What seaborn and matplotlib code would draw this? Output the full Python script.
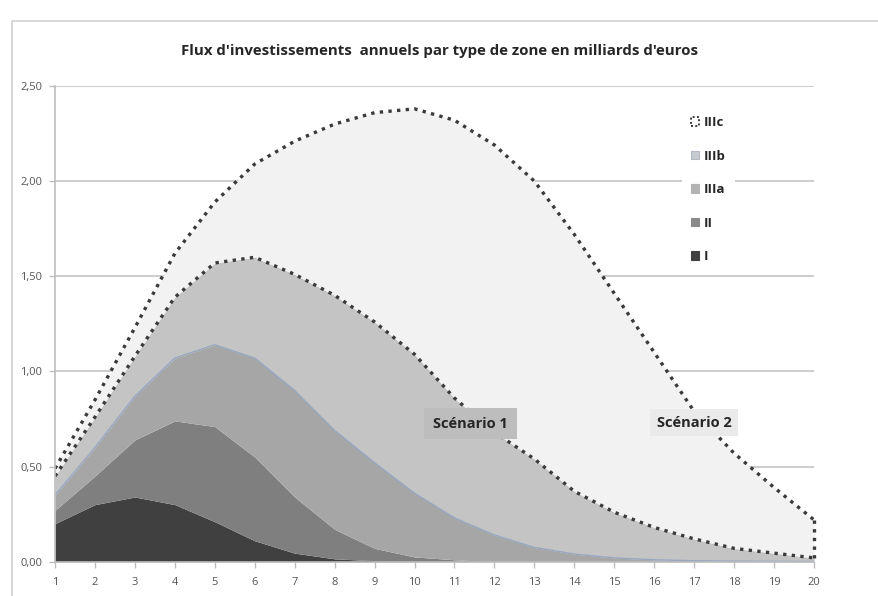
import numpy as np
import pandas as pd
import matplotlib
matplotlib.use("Agg")
import matplotlib.pyplot as plt
from matplotlib.patches import Patch, Rectangle
from matplotlib.ticker import FuncFormatter, MultipleLocator
import seaborn as sns

# Annual investment flows (billion euros) per zone type, years 1..20
years = list(range(1, 21))
zone_i    = [0.20, 0.30, 0.34, 0.30, 0.21, 0.11, 0.045, 0.015, 0.005, 0.0,
             0.0, 0.0, 0.0, 0.0, 0.0, 0.0, 0.0, 0.0, 0.0, 0.0]
zone_ii   = [0.07, 0.15, 0.30, 0.44, 0.50, 0.44, 0.295, 0.155, 0.065, 0.025,
             0.01, 0.0, 0.0, 0.0, 0.0, 0.0, 0.0, 0.0, 0.0, 0.0]
zone_iiia = [0.08, 0.15, 0.23, 0.33, 0.43, 0.52, 0.56, 0.52, 0.45, 0.335,
             0.22, 0.14, 0.075, 0.04, 0.02, 0.01, 0.005, 0.003, 0.002, 0.001]
zone_iiib = [0.10, 0.16, 0.21, 0.32, 0.43, 0.53, 0.61, 0.71, 0.74, 0.73,
             0.63, 0.54, 0.465, 0.33, 0.24, 0.17, 0.115, 0.067, 0.043, 0.019]
zone_iiic = [0.04, 0.09, 0.15, 0.23, 0.32, 0.49, 0.70, 0.90, 1.10, 1.29,
             1.46, 1.51, 1.46, 1.35, 1.15, 0.92, 0.67, 0.50, 0.345, 0.20]

series_names = ["I", "II", "IIIa", "IIIb", "IIIc"]
title = "Flux d'investissements  annuels par type de zone en milliards d'euros"
scenario_labels = ["Scénario 1", "Scénario 2"]

df = pd.DataFrame({"annee": years, "I": zone_i, "II": zone_ii, "IIIa": zone_iiia,
                   "IIIb": zone_iiib, "IIIc": zone_iiic})
cum = df[series_names].cumsum(axis=1)

sns.set_theme(style="white")
plt.rcParams["font.family"] = ["Open Sans", "DejaVu Sans"]

W, H = 879, 596
fig = plt.figure(figsize=(W / 100, H / 100), dpi=100)
fig.patch.set_facecolor("white")

# chart-area border
fig.add_artist(Rectangle((12 / W, -0.05), 1.2, 1 - 21 / H + 0.05,
                         transform=fig.transFigure, fill=False,
                         edgecolor="#d4d4d4", lw=1.3))

left, right, top, bottom = 55, 814, 86, 561.7
ax = fig.add_axes([left / W, 1 - bottom / H, (right - left) / W, (bottom - top) / H])
ax.set_facecolor("none")

fills = {"I": "#404040", "II": "#7f7f7f", "IIIa": "#a6a6a6",
         "IIIb": "#c4c4c4", "IIIc": "#f2f2f2"}

base = np.zeros(len(years))
for name in series_names:
    topv = cum[name].to_numpy()
    ax.fill_between(df["annee"], base, topv, color=fills[name], lw=0, zorder=2)
    base = topv

dot = (0, (1, 1.6))
sns.lineplot(x=df["annee"], y=cum["IIIa"], ax=ax, color="#98a6c0", lw=1.0, zorder=3)
sns.lineplot(x=df["annee"], y=cum["IIIb"], ax=ax, color="#3a3a3a", lw=2.4,
             linestyle=dot, zorder=4)
sns.lineplot(x=df["annee"], y=cum["IIIc"], ax=ax, color="#3a3a3a", lw=2.4,
             linestyle=dot, zorder=4)
ax.plot([years[-1], years[-1]], [cum["IIIb"].iloc[-1], cum["IIIc"].iloc[-1]],
        color="#3a3a3a", lw=2.4, linestyle=dot, zorder=4, clip_on=False)

ax.set_xlim(1, 20)
ax.set_ylim(0, 2.5)
ax.set_xticks(years)
ax.yaxis.set_major_locator(MultipleLocator(0.5))
ax.yaxis.set_major_formatter(FuncFormatter(lambda v, _: f"{v:.2f}".replace(".", ",")))
ax.set_xlabel("")
ax.set_ylabel("")

ax.grid(axis="y", color="#c4c4c4", lw=1.2, zorder=0)
ax.grid(axis="x", visible=False)
ax.set_axisbelow(True)
for s in ["top", "right"]:
    ax.spines[s].set_visible(False)
for s in ["left", "bottom"]:
    ax.spines[s].set_color("#bdbdbd")
    ax.spines[s].set_linewidth(1.2)
    ax.spines[s].set_zorder(5)
ax.tick_params(axis="both", which="major", direction="out", length=4, width=1,
               color="#bdbdbd", labelsize=8, labelcolor="#555555")
ax.tick_params(axis="x", pad=7)
ax.tick_params(axis="y", pad=5)
ax.tick_params(left=True, bottom=True)

fig.text(0.5, 1 - 51 / H, title, ha="center", va="center", fontsize=10.8,
         fontweight="bold", color="#262626")

# scenario labels
ax.text(11.4, 0.725, scenario_labels[0], ha="center", va="center", fontsize=10.5,
        fontweight="bold", color="#262626", zorder=6,
        bbox=dict(boxstyle="square,pad=0.6", facecolor="#bdbdbd", edgecolor="none"))
ax.text(17.0, 0.73, scenario_labels[1], ha="center", va="center", fontsize=10.5,
        fontweight="bold", color="#262626", zorder=6,
        bbox=dict(boxstyle="square,pad=0.45", facecolor="#eaeaea", edgecolor="none"))

legend_handles = [
    Patch(facecolor="white", edgecolor="#3a3a3a", linestyle=(0, (1, 1.2)), lw=1.4),
    Patch(facecolor="#c8cad0", edgecolor="#b4b8c4", lw=0.8),
    Patch(facecolor="#b3b3b3", edgecolor="#b3b3b3", lw=0.8),
    Patch(facecolor="#8a8a8a", edgecolor="#8a8a8a", lw=0.8),
    Patch(facecolor="#404040", edgecolor="#404040", lw=0.8),
]
leg = ax.legend(legend_handles, series_names[::-1], loc="upper left",
                bbox_to_anchor=(682 / W, 1 - 107 / H), bbox_transform=fig.transFigure,
                frameon=True, facecolor="white", edgecolor="none", framealpha=1,
                prop={"size": 9.5, "weight": "bold"},
                handlelength=0.6, handleheight=0.6,
                handletextpad=0.35, labelspacing=1.55, borderpad=0.7, borderaxespad=0)
for t in leg.get_texts():
    t.set_color("#262626")
leg.set_zorder(7)

fig.savefig("out.png", dpi=100)
